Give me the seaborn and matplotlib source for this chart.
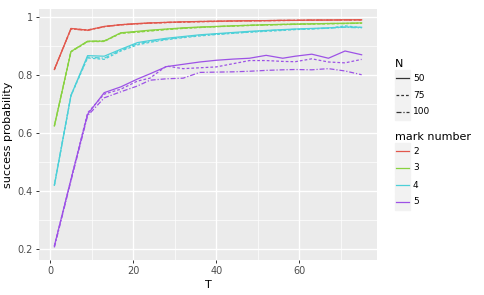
import numpy as np
import pandas as pd
import seaborn as sns
import matplotlib.pyplot as plt
from matplotlib.lines import Line2D
from matplotlib.patches import Rectangle
from matplotlib.ticker import MultipleLocator

# T values (20 points from 1 to 75)
T = [1, 5, 9, 13, 17, 21, 24, 28, 32, 36, 40, 44, 48, 52, 56, 59, 63, 67, 71, 75]

# success probability per mark number and N
m2_n50  = [0.820, 0.962, 0.956, 0.969, 0.975, 0.979, 0.981, 0.983, 0.985, 0.986, 0.987, 0.988, 0.989, 0.989, 0.990, 0.990, 0.991, 0.991, 0.992, 0.992]
m2_n75  = [0.819, 0.961, 0.957, 0.968, 0.974, 0.978, 0.980, 0.982, 0.984, 0.985, 0.986, 0.987, 0.988, 0.989, 0.989, 0.990, 0.990, 0.991, 0.991, 0.991]
m2_n100 = [0.821, 0.960, 0.955, 0.968, 0.975, 0.978, 0.981, 0.983, 0.984, 0.986, 0.987, 0.988, 0.988, 0.989, 0.990, 0.990, 0.991, 0.991, 0.991, 0.992]

m3_n50  = [0.625, 0.882, 0.918, 0.918, 0.947, 0.952, 0.956, 0.960, 0.964, 0.967, 0.969, 0.971, 0.973, 0.975, 0.976, 0.977, 0.978, 0.979, 0.980, 0.981]
m3_n75  = [0.624, 0.881, 0.916, 0.917, 0.945, 0.949, 0.953, 0.958, 0.962, 0.965, 0.968, 0.970, 0.972, 0.974, 0.975, 0.976, 0.977, 0.978, 0.979, 0.980]
m3_n100 = [0.626, 0.883, 0.917, 0.919, 0.946, 0.950, 0.954, 0.959, 0.963, 0.966, 0.968, 0.971, 0.973, 0.974, 0.976, 0.977, 0.978, 0.979, 0.979, 0.980]

m4_n50  = [0.420, 0.730, 0.868, 0.866, 0.890, 0.913, 0.920, 0.928, 0.934, 0.940, 0.944, 0.948, 0.952, 0.955, 0.958, 0.960, 0.962, 0.964, 0.967, 0.966]
m4_n75  = [0.419, 0.729, 0.860, 0.855, 0.884, 0.905, 0.914, 0.923, 0.930, 0.936, 0.941, 0.945, 0.949, 0.952, 0.955, 0.958, 0.960, 0.963, 0.971, 0.965]
m4_n100 = [0.421, 0.731, 0.863, 0.859, 0.887, 0.909, 0.917, 0.925, 0.932, 0.938, 0.942, 0.946, 0.950, 0.954, 0.957, 0.959, 0.961, 0.963, 0.966, 0.964]

m5_n50  = [0.210, 0.440, 0.665, 0.740, 0.760, 0.787, 0.805, 0.830, 0.838, 0.846, 0.852, 0.856, 0.859, 0.869, 0.859, 0.866, 0.873, 0.859, 0.884, 0.871]
m5_n75  = [0.210, 0.440, 0.670, 0.735, 0.752, 0.780, 0.790, 0.832, 0.823, 0.826, 0.829, 0.840, 0.851, 0.851, 0.848, 0.847, 0.857, 0.846, 0.843, 0.855]
m5_n100 = [0.205, 0.435, 0.660, 0.722, 0.743, 0.763, 0.783, 0.788, 0.790, 0.810, 0.811, 0.812, 0.814, 0.817, 0.819, 0.820, 0.819, 0.823, 0.815, 0.802]

marks = ['2', '3', '4', '5']
Ns = ['50', '75', '100']
series = {
    ('2', '50'): m2_n50, ('2', '75'): m2_n75, ('2', '100'): m2_n100,
    ('3', '50'): m3_n50, ('3', '75'): m3_n75, ('3', '100'): m3_n100,
    ('4', '50'): m4_n50, ('4', '75'): m4_n75, ('4', '100'): m4_n100,
    ('5', '50'): m5_n50, ('5', '75'): m5_n75, ('5', '100'): m5_n100,
}

rows = []
for (m, n), vals in series.items():
    for t, v in zip(T, vals):
        rows.append({'T': t, 'p': v, 'mark number': m, 'N': n})
df = pd.DataFrame(rows)

colors = {'2': '#E2574C', '3': '#88D240', '4': '#4CD0D8', '5': '#9D52E6'}
dashes = {'50': '', '75': (2.2, 1.6), '100': (4, 1.5, 1, 1.5)}

plt.rcParams['font.family'] = ['DejaVu Sans']
fig = plt.figure(figsize=(4.84, 2.95), dpi=100)
W, H = 484, 295
ax = fig.add_axes([39 / W, 1 - 260 / H, (377 - 39) / W, (260 - 9) / H])
ax.set_facecolor('#EBEBEB')

sns.lineplot(data=df, x='T', y='p', hue='mark number', style='N',
             hue_order=marks, style_order=Ns, palette=colors, dashes=dashes,
             linewidth=0.9, legend=False, ax=ax, estimator=None, sort=True)

ax.set_xlim(-2.7, 78.7)
ax.set_ylim(0.1615, 1.0292)
ax.xaxis.set_major_locator(MultipleLocator(20))
ax.xaxis.set_minor_locator(MultipleLocator(10))
ax.yaxis.set_major_locator(MultipleLocator(0.2))
ax.yaxis.set_minor_locator(MultipleLocator(0.1))
ax.set_xticks([0, 20, 40, 60])
ax.set_xticklabels(['0', '20', '40', '60'])
ax.set_yticks([0.2, 0.4, 0.6, 0.8, 1.0])
ax.set_yticklabels(['0.2', '0.4', '0.6', '0.8', '1'])
ax.grid(which='major', color='white', linewidth=1.0)
ax.grid(which='minor', color='white', linewidth=0.5)
ax.set_axisbelow(True)
for s in ax.spines.values():
    s.set_visible(False)
ax.tick_params(which='major', length=2.5, width=0.7, color='#333333',
               labelsize=7, labelcolor='#4D4D4D', pad=2)
ax.tick_params(which='minor', length=0)
ax.set_xlabel('T', fontsize=8, labelpad=3)
ax.set_ylabel('success probability', fontsize=8, labelpad=3)

# legends drawn by hand in figure pixels
def px(x, y):
    return x / W, 1 - y / H

def key(y, color, ls):
    fig.patches.append(Rectangle(px(395, y + 8), 15 / W, 16 / H,
                                 transform=fig.transFigure, color='#F2F2F2', zorder=1))
    x0, yy = px(396, y)
    x1, _ = px(409, y)
    ln = Line2D([x0, x1], [yy, yy], transform=fig.transFigure, color=color,
                linewidth=0.9, zorder=2)
    if ls:
        ln.set_dashes(ls)
    fig.lines.append(ln)

fig.text(*px(395, 64), 'N', fontsize=8, va='center', ha='left')
for i, n in enumerate(Ns):
    y = 78 + i * 17
    key(y, '#333333', dashes[n])
    fig.text(*px(413, y), n, fontsize=6.5, va='center', ha='left')

fig.text(*px(395, 137), 'mark number', fontsize=8, va='center', ha='left')
for i, m in enumerate(marks):
    y = 151 + i * 17
    key(y, colors[m], '')
    fig.text(*px(413, y), m, fontsize=6.5, va='center', ha='left')

plt.savefig('out.png', dpi=100)
